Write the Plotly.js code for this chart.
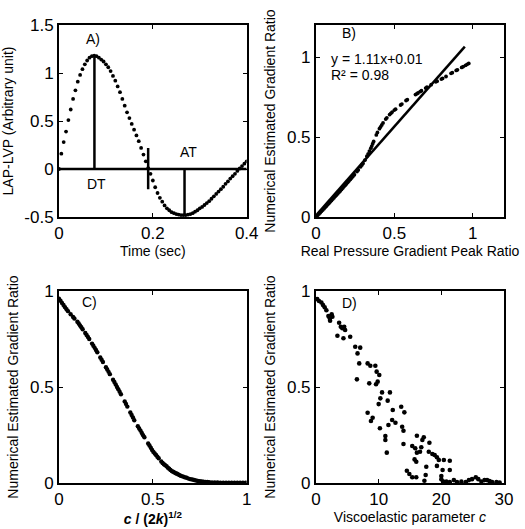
<!DOCTYPE html>
<html>
<head>
<meta charset="utf-8">
<script src="https://cdn.plot.ly/plotly-3.0.1.min.js"></script>
<style>html,body{margin:0;padding:0;background:#fff;}#chart{width:525px;height:529px;}</style>
</head>
<body>
<div id="chart"></div>
<script>
// ---------- Panel A: LAP-LVP waveform ----------
const timeA = [0,0.005,0.01,0.015,0.02,0.025,0.03,0.035,0.04,0.045,0.05,0.055,0.06,0.065,0.07,0.075,0.08,0.085,0.09,0.095,0.1,0.105,0.11,0.115,0.12,0.125,0.13,0.135,0.14,0.145,0.15,0.155,0.16,0.165,0.17,0.175,0.18,0.185,0.19,0.195,0.2,0.205,0.21,0.215,0.22,0.225,0.23,0.235,0.24,0.245,0.25,0.255,0.26,0.265,0.27,0.275,0.28,0.285,0.29,0.295,0.3,0.305,0.31,0.315,0.32,0.325,0.33,0.335,0.34,0.345,0.35,0.355,0.36,0.365,0.37,0.375,0.38,0.385,0.39,0.395,0.4];
const pressA = [0,0.16,0.28,0.39,0.51,0.62,0.73,0.82,0.91,0.98,1.04,1.09,1.13,1.16,1.175,1.18,1.175,1.16,1.14,1.12,1.09,1.06,1.02,0.97,0.92,0.86,0.80,0.73,0.66,0.59,0.53,0.47,0.41,0.35,0.29,0.22,0.15,0.08,0.01,-0.05,-0.12,-0.19,-0.25,-0.30,-0.34,-0.38,-0.41,-0.43,-0.45,-0.46,-0.47,-0.475,-0.48,-0.48,-0.48,-0.475,-0.47,-0.46,-0.445,-0.43,-0.41,-0.395,-0.375,-0.355,-0.335,-0.31,-0.285,-0.26,-0.235,-0.21,-0.185,-0.155,-0.13,-0.10,-0.075,-0.05,-0.02,0.005,0.03,0.055,0.08];
const peakTime = 0.0755, peakValue = 1.18;
const zeroCrossTime = 0.19, zeroMarkLow = -0.21, zeroMarkHigh = 0.22;
const minTime = 0.2675, minValue = -0.48;
const xTicksA = [0,0.2,0.4], xTickTextA = ['0','0.2','0.4'];
const yTicksA = [-0.5,0,0.5,1,1.5], yTickTextA = ['-0.5','0','0.5','1','1.5'];

// ---------- Panel B: numerical vs real ratio ----------
const realRatioB = [0.005,0.012,0.019,0.027,0.035,0.043,0.051,0.059,0.067,0.075,0.083,0.091,0.099,0.107,0.115,0.123,0.131,0.139,0.147,0.155,0.163,0.171,0.179,0.187,0.195,0.203,0.211,0.219,0.227,0.235,0.245,0.262,0.270,0.285,0.293,0.300,0.312,0.325,0.333,0.341,0.350,0.356,0.362,0.368,0.385,0.392,0.405,0.412,0.420,0.428,0.445,0.452,0.470,0.478,0.486,0.500,0.508,0.540,0.548,0.575,0.583,0.635,0.643,0.651,0.665,0.673,0.700,0.708,0.735,0.765,0.773,0.800,0.808,0.830,0.862,0.870,0.895,0.903,0.930,0.940,0.955,0.965,0.975];
const numRatioB = [0.005,0.012,0.019,0.027,0.036,0.044,0.052,0.061,0.069,0.078,0.086,0.095,0.103,0.112,0.12,0.129,0.138,0.146,0.155,0.163,0.172,0.181,0.19,0.199,0.208,0.217,0.226,0.235,0.244,0.253,0.264,0.284,0.294,0.314,0.325,0.335,0.355,0.38,0.395,0.412,0.43,0.443,0.458,0.472,0.513,0.528,0.552,0.563,0.575,0.588,0.612,0.62,0.64,0.648,0.656,0.668,0.674,0.7,0.706,0.728,0.733,0.765,0.77,0.775,0.784,0.789,0.806,0.811,0.827,0.845,0.849,0.862,0.866,0.878,0.898,0.902,0.916,0.92,0.935,0.94,0.948,0.954,0.96];
const fitSlope = 1.11, fitIntercept = 0.01;
const fitRangeB = [0, 0.95];
const ticksB = [0,0.5,1], tickTextB = ['0','0.5','1'];

// ---------- Panel C: ratio vs c/(2k)^1/2 ----------
const normC = [0.000,0.008,0.016,0.024,0.032,0.040,0.048,0.062,0.075,0.082,0.098,0.105,0.112,0.119,0.126,0.140,0.147,0.154,0.161,0.176,0.183,0.190,0.197,0.204,0.220,0.227,0.234,0.250,0.257,0.264,0.271,0.288,0.295,0.302,0.309,0.316,0.323,0.330,0.350,0.357,0.364,0.380,0.387,0.394,0.401,0.420,0.427,0.434,0.441,0.448,0.455,0.475,0.482,0.489,0.496,0.503,0.510,0.517,0.524,0.531,0.545,0.552,0.559,0.566,0.573,0.580,0.587,0.594,0.601,0.608,0.615,0.622,0.629,0.636,0.643,0.650,0.660,0.670,0.680,0.690,0.700,0.710,0.720,0.730,0.740,0.750,0.760,0.770,0.780,0.790,0.800,0.815,0.830,0.845,0.860,0.875,0.890,0.905,0.920,0.935,0.950,0.965,0.980,0.995];
const ratioC = [0.960,0.949,0.938,0.927,0.916,0.905,0.895,0.879,0.865,0.857,0.840,0.831,0.821,0.811,0.801,0.781,0.771,0.761,0.750,0.726,0.715,0.704,0.693,0.681,0.654,0.642,0.630,0.603,0.591,0.579,0.567,0.538,0.526,0.513,0.500,0.488,0.475,0.462,0.425,0.412,0.398,0.367,0.354,0.341,0.327,0.296,0.284,0.273,0.261,0.249,0.238,0.206,0.195,0.184,0.172,0.162,0.154,0.146,0.137,0.129,0.112,0.104,0.098,0.093,0.087,0.080,0.074,0.068,0.062,0.059,0.055,0.051,0.048,0.044,0.041,0.037,0.034,0.030,0.027,0.023,0.020,0.018,0.016,0.013,0.011,0.009,0.008,0.007,0.006,0.005,0.004,0.003,0.003,0.003,0.002,0.002,0.002,0.002,0.002,0.002,0.001,0.001,0.001,0.001];
const ticksC = [0,0.5,1], tickTextC = ['0','0.5','1'];

// ---------- Panel D: ratio vs viscoelastic parameter c ----------
const viscD = [0.2,0.48,0.86,1.12,1.39,1.66,1.98,2.2,2.25,2.5,2.62,3.69,3.96,4.2,4.5,4.65,3.42,4.38,5.46,6.26,7.06,6.63,6.9,8.24,8.67,9.47,9.68,10.1,6.53,8.5,9.84,9.58,10.54,11.8,10.27,11.44,10.0,12.25,8.24,9.04,8.77,12.15,12.68,11.56,10.2,11.07,11.07,11.3,
  13.6,14.1,13.75,13.96,13.96,16.1,17.2,16.97,18.1,15.36,15.84,16.8,16.1,16.6,18.0,18.57,18.94,19.3,19.6,20.4,21.35,15.73,16.0,17.6,19.3,20.2,21.35,14.5,14.9,15.36,16.0,17.5,17.3,20.0,20.0,20.3,20.8,21.35,22.0,22.5,23.2,23.9,24.4,24.9,25.5,25.9,26.4,26.9,27.3,27.7,28.1,28.8,29.3];
const ratioD = [0.958,0.948,0.94,0.927,0.915,0.90,0.87,0.858,0.845,0.879,0.866,0.835,0.814,0.806,0.814,0.797,0.767,0.754,0.762,0.71,0.705,0.675,0.623,0.623,0.611,0.611,0.58,0.5625,0.54,0.519,0.528,0.514,0.472,0.472,0.441,0.429,0.411,0.38,0.366,0.34,0.323,0.328,0.314,0.302,0.285,0.245,0.224,0.158,
  0.397,0.368,0.293,0.272,0.203,0.246,0.238,0.224,0.21,0.193,0.181,0.186,0.158,0.163,0.163,0.151,0.146,0.134,0.12,0.12,0.116,0.123,0.111,0.085,0.089,0.068,0.068,0.064,0.047,0.03,0.03,0.042,0.012,0.036,0.019,0.007,0.007,0.005,0.015,0.005,0.007,0.005,0.015,0.02,0.03,0.02,0.008,0.015,0.015,0.01,0.005,0.005,0.003];
const xTicksD = [0,10,20,30], xTickTextD = ['0','10','20','30'];
const yTicksD = [0,0.5,1], yTickTextD = ['0','0.5','1'];

// ---------- drawing ----------
const FONT = 'Liberation Sans, Arial, sans-serif';
const dot = (size) => ({color:'#000', size:size});
const blackLine = {color:'#000', width:2.5};

const traces = [
  {x: timeA, y: pressA, mode:'markers', marker: dot(3.8), xaxis:'x', yaxis:'y'},
  {x: [0, timeA[timeA.length-1]], y: [0,0], mode:'lines', line: blackLine, xaxis:'x', yaxis:'y'},
  {x: [peakTime, peakTime], y: [0, peakValue], mode:'lines', line: blackLine, xaxis:'x', yaxis:'y'},
  {x: [zeroCrossTime, zeroCrossTime], y: [zeroMarkLow, zeroMarkHigh], mode:'lines', line: blackLine, xaxis:'x', yaxis:'y'},
  {x: [minTime, minTime], y: [0, minValue], mode:'lines', line: blackLine, xaxis:'x', yaxis:'y'},

  {x: realRatioB, y: numRatioB, mode:'markers', marker: dot(3.8), xaxis:'x2', yaxis:'y2'},
  {x: fitRangeB, y: fitRangeB.map(v => fitSlope*v + fitIntercept), mode:'lines', line: blackLine, xaxis:'x2', yaxis:'y2'},

  {x: normC, y: ratioC, mode:'markers', marker: dot(4.4), xaxis:'x3', yaxis:'y3'},

  {x: viscD, y: ratioD, mode:'markers', marker: dot(4.6), xaxis:'x4', yaxis:'y4'}
];

const tickFont = {family: FONT, size: 17, color:'#000'};
const titleFont = {family: FONT, size: 14, color:'#000'};
function ax(domain, range, tv, tt, title, anchor, standoff) {
  return {
    domain: domain, range: range, tickvals: tv, ticktext: tt,
    ticks:'inside', ticklen:4, tickwidth:1, tickcolor:'#000',
    showline:true, linecolor:'#000', linewidth:2, mirror:'ticks',
    showgrid:false, zeroline:false, tickfont: tickFont,
    title: {text: title, font: titleFont, standoff: standoff},
    anchor: anchor, fixedrange:true
  };
}

const xL = [0, 0.4218], xR = [0.5775, 1];
const yT = [0.5808, 1], yB = [0, 0.4192];

const layout = {
  width:525, height:529,
  margin:{l:59, r:21, t:25, b:46},
  paper_bgcolor:'#fff', plot_bgcolor:'#fff',
  showlegend:false,
  font:{family: FONT, color:'#000'},
  xaxis:  ax(xL, [0,0.4], xTicksA, xTickTextA, 'Time (sec)', 'y', 0),
  yaxis:  ax(yT, [-0.5,1.5], yTicksA, yTickTextA, 'LAP-LVP (Arbitrary unit)', 'x', 8),
  xaxis2: ax(xR, [0,1.2], ticksB, tickTextB, 'Real Pressure Gradient Peak Ratio', 'y2', 0),
  yaxis2: ax(yT, [0,1.2], ticksB, tickTextB, 'Numerical Estimated Gradient Ratio', 'x2', 8),
  xaxis3: ax(xL, [0,1], ticksC, tickTextC, '<b><i>c</i> / (2<i>k</i>)<sup>1/2</sup></b>', 'y3', 0),
  yaxis3: ax(yB, [0,1], ticksC, tickTextC, 'Numerical Estimated Gradient Ratio', 'x3', 8),
  xaxis4: ax(xR, [0,30], xTicksD, xTickTextD, 'Viscoelastic parameter <i>c</i>', 'y4', 0),
  yaxis4: ax(yB, [0,1], yTicksD, yTickTextD, 'Numerical Estimated Gradient Ratio', 'x4', 8),
  annotations: [
    {xref:'x', yref:'y', x:0.073, y:1.35, text:'A)', showarrow:false, font:titleFont},
    {xref:'x', yref:'y', x:0.079, y:-0.156, text:'DT', showarrow:false, font:titleFont},
    {xref:'x', yref:'y', x:0.276, y:0.174, text:'AT', showarrow:false, font:titleFont},
    {xref:'x2', yref:'y2', x:0.212, y:1.15, text:'B)', showarrow:false, font:titleFont},
    {xref:'x2', yref:'y2', x:0.083, y:0.99, xanchor:'left', text:'y = 1.11x+0.01', showarrow:false, font:titleFont},
    {xref:'x2', yref:'y2', x:0.083, y:0.885, xanchor:'left', text:'R² = 0.98', showarrow:false, font:titleFont},
    {xref:'x3', yref:'y3', x:0.165, y:0.944, text:'C)', showarrow:false, font:titleFont},
    {xref:'x4', yref:'y4', x:5.3, y:0.936, text:'D)', showarrow:false, font:titleFont}
  ]
};

Plotly.newPlot('chart', traces, layout, {staticPlot:true, displayModeBar:false});
</script>
</body>
</html>
